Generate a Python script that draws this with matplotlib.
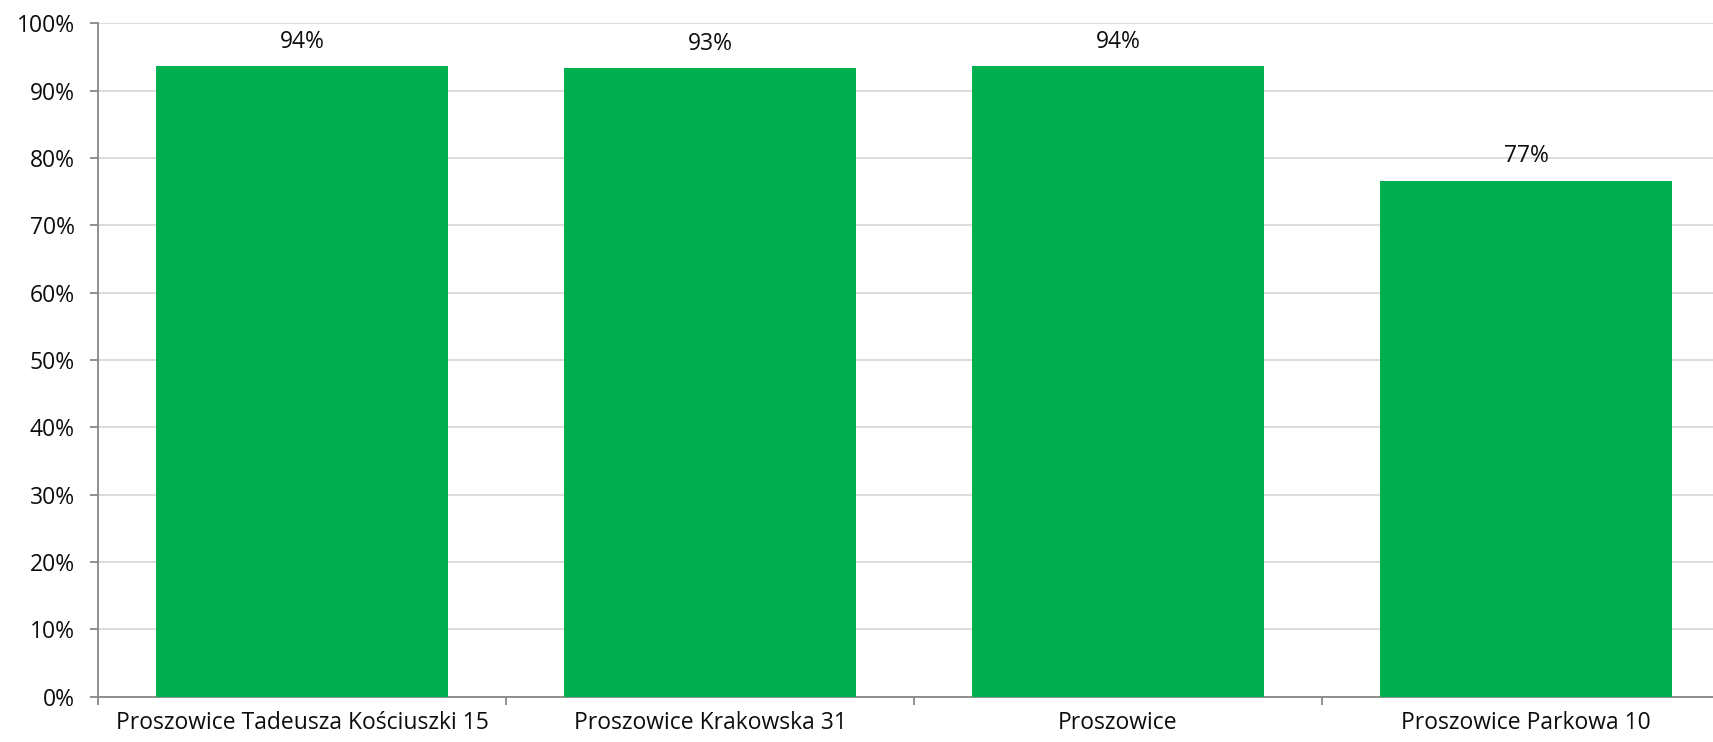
import matplotlib
matplotlib.use("Agg")
import matplotlib.pyplot as plt
from matplotlib.ticker import PercentFormatter, FixedLocator

categories = ["Proszowice Tadeusza Kościuszki 15", "Proszowice Krakowska 31",
              "Proszowice", "Proszowice Parkowa 10"]
values = [0.936, 0.933, 0.936, 0.766]
labels = ["94%", "93%", "94%", "77%"]
yticks = [i / 10 for i in range(11)]

plt.rcParams['font.family'] = ['Open Sans', 'DejaVu Sans']

fig = plt.figure(figsize=(17.13, 7.42), dpi=100)
ax = fig.add_axes([98 / 1713, 1 - 696.5 / 742, (1730 - 98) / 1713, (696.5 - 23.3) / 742])

x = list(range(len(categories)))
bars = ax.bar(x, values, width=0.716, color="#00B050", zorder=3)
for xi, v, lab in zip(x, values, labels):
    ax.annotate(lab, (xi, v), xytext=(0, 9), textcoords="offset points",
                ha="center", va="bottom", fontsize=16.5, color="#0d0d0d")

ax.set_xlim(-0.5, len(categories) - 0.5)
ax.set_ylim(0, 1)
ax.set_yticks(yticks)
ax.yaxis.set_major_formatter(PercentFormatter(1.0, decimals=0))
ax.grid(axis="y", color="#d9d9d9", linewidth=1.3, zorder=0)
ax.set_axisbelow(True)

ax.set_xticks(x)
ax.set_xticklabels(categories)
ax.xaxis.set_minor_locator(FixedLocator([i - 0.5 for i in range(len(categories) + 1)]))
ax.tick_params(axis="x", which="major", length=0, pad=10.5, labelsize=16.5, colors="#0d0d0d")
ax.tick_params(axis="x", which="minor", length=5.8, width=1.3, color="#888888")
ax.tick_params(axis="y", length=5.8, width=1.3, color="#888888", labelsize=16.5,
               labelcolor="#0d0d0d", pad=11)

for s in ["top", "right"]:
    ax.spines[s].set_visible(False)
for s in ["left", "bottom"]:
    ax.spines[s].set_color("#888888")
    ax.spines[s].set_linewidth(1.3)

fig.savefig("out.png", dpi=100)
